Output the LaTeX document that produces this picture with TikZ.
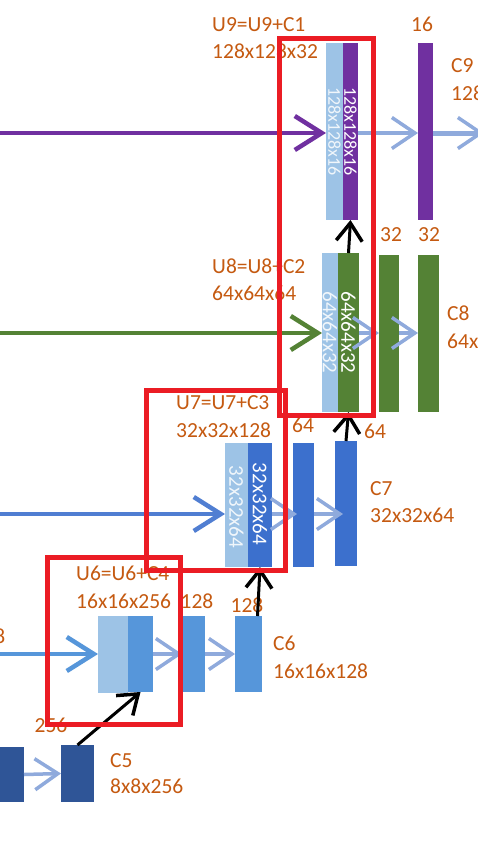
\documentclass[tikz,border=0pt]{standalone}
\usepackage{fontspec}
\setmainfont{Carlito}
\usetikzlibrary{arrows.meta,positioning}
\definecolor{lblorange}{RGB}{197,90,17}
\definecolor{skiplight}{RGB}{157,195,230}
\definecolor{nnpurple}{RGB}{112,48,160}
\definecolor{nngreen}{RGB}{84,130,53}
\definecolor{nnblue}{RGB}{60,112,205}
\definecolor{nnmid}{RGB}{86,150,218}
\definecolor{nndark}{RGB}{47,85,151}
\definecolor{convarrow}{RGB}{143,170,220}
\definecolor{boxred}{RGB}{235,28,36}
\tikzset{
	layer/.style = {
			rectangle,
			inner sep = 0pt,
			outer sep = 0pt,
			anchor    = north west,
		},
	lbl/.style = {text=lblorange, anchor=base west, inner sep=0pt, font=\fontsize{21.5}{26}\selectfont},
	num/.style = {lbl, anchor=base},
	dimtext/.style = {rotate=-90, inner sep=0pt, font=\fontsize{21}{24}\selectfont},
	concat/.style = {line width=4pt, -{Straight Barb[length=27pt,width=34pt,line width=4.5pt]}},
	conv/.style = {draw=convarrow, line width=3.5pt, -{Straight Barb[length=23pt,width=31pt,line width=3.5pt]}},
	upconv/.style = {draw=black, line width=3pt, -{Straight Barb[length=18pt,width=26pt,line width=3.5pt]}},
	redbox/.style = {draw=boxred, line width=5pt},
}
\begin{document}
\begin{tikzpicture}[x=1pt,y=-1pt]
	\useasboundingbox[fill=white] (0,0) rectangle (478,843);
	\clip (0,0) rectangle (478,843);

	% Labels of the decoder stages
	% U9 stage
	\node[lbl] (u9name) at (212,32) {U9=U9+C1};
	\node[lbl] (u9size) at (212,59) {128x128x32};
	\node[num] (c9ch) at (422,32) {16};
	\node[lbl] (c9name) at (451,73) {C9};
	\node[lbl] (c9size) at (451,100) {128x128x16};

	% U8 stage
	\node[lbl] (u8name) at (212,273) {U8=U8+C2};
	\node[lbl] (u8size) at (212,300) {64x64x64};
	\node[num] (c8ach) at (391,241) {32};
	\node[num] (c8bch) at (429,241) {32};
	\node[lbl] (c8name) at (447,320) {C8};
	\node[lbl] (c8size) at (447,348) {64x64x32};

	% U7 stage
	\node[lbl] (u7name) at (176,409) {U7=U7+C3};
	\node[lbl] (u7size) at (176,437) {32x32x128};
	\node[num] (c7ach) at (303,432) {64};
	\node[num] (c7bch) at (375,438) {64};
	\node[lbl] (c7name) at (370,495) {C7};
	\node[lbl] (c7size) at (370,522) {32x32x64};

	% U6 stage
	\node[lbl] (u6name) at (76,580) {U6=U6+C4};
	\node[lbl] (u6size) at (76,608) {16x16x256};
	\node[num] (c6ach) at (197,608) {128};
	\node[num] (c6bch) at (247,612) {128};
	\node[lbl] (c6name) at (273,650) {C6};
	\node[lbl] (c6size) at (273,678) {16x16x128};
	\node[lbl, anchor=base east] (c4size) at (5.5,643) {128};

	% C5 stage
	\node[num] (c5ch) at (51,732) {256};
	\node[lbl] (c5name) at (110,767) {C5};
	\node[lbl] (c5size) at (110,793) {8x8x256};

	% Feature map bars
	\node[layer, fill=skiplight, minimum width=17pt, minimum height=177pt] (u9a) at (326,43) {};
	\node[layer, fill=nnpurple, minimum width=15pt, minimum height=177pt] (u9b) at (343,43) {};
	\node[layer, fill=nnpurple, minimum width=15pt, minimum height=177pt] (c9a) at (418,43) {};

	\node[layer, fill=skiplight, minimum width=16pt, minimum height=159pt] (u8a) at (322,253) {};
	\node[layer, fill=nngreen, minimum width=21pt, minimum height=159pt] (u8b) at (338,253) {};
	\node[layer, fill=nngreen, minimum width=20pt, minimum height=157pt] (c8a) at (379,255) {};
	\node[layer, fill=nngreen, minimum width=21pt, minimum height=157pt] (c8b) at (418,255) {};

	\node[layer, fill=skiplight, minimum width=23pt, minimum height=124pt] (u7a) at (225,443) {};
	\node[layer, fill=nnblue, minimum width=24pt, minimum height=124pt] (u7b) at (248,443) {};
	\node[layer, fill=nnblue, minimum width=21pt, minimum height=124pt] (c7a) at (293,443) {};
	\node[layer, fill=nnblue, minimum width=22pt, minimum height=125pt] (c7b) at (335,441) {};

	\node[layer, fill=skiplight, minimum width=30pt, minimum height=77pt] (u6a) at (98,616) {};
	\node[layer, fill=nnmid, minimum width=25pt, minimum height=76pt] (u6b) at (128,616) {};
	\node[layer, fill=nnmid, minimum width=23pt, minimum height=76pt] (c6a) at (182,616) {};
	\node[layer, fill=nnmid, minimum width=27pt, minimum height=76pt] (c6b) at (235,616) {};

	\node[layer, fill=nndark, minimum width=24pt, minimum height=55pt] (c4b) at (0,747) {};
	\node[layer, fill=nndark, minimum width=33pt, minimum height=57pt] (c5b) at (61,745) {};

	% Sizes written inside the concatenated bars
	\node[dimtext, text=white!85!skiplight, font=\fontsize{18}{20}\selectfont] (u9at) at (u9a.center) {128x128x16};
	\node[dimtext, text=white, font=\fontsize{18}{20}\selectfont] (u9bt) at (u9b.center) {128x128x16};
	\node[dimtext, text=white!85!skiplight] (u8at) at (u8a.center) {64x64x32};
	\node[dimtext, text=white] (u8bt) at (u8b.center) {64x64x32};
	\node[dimtext, text=white!85!skiplight] (u7at) at ([yshift=-2pt]u7a.center) {32x32x64};
	\node[dimtext, text=white] (u7bt) at ([yshift=1pt]u7b.center) {32x32x64};

	% Skip connections
	\coordinate (in9) at (0,133);
	\coordinate (in8) at (0,333);
	\coordinate (in7) at (0,514);
	\coordinate (in6) at (0,654);
	\draw[concat, draw=nnpurple] (in9) -- (in9 -| u9a.west);
	\draw[concat, draw=nngreen] (in8) -- (in8 -| u8a.west);
	\draw[concat, draw=nnblue!90!white] (in7) -- (in7 -| u7a.west);
	\draw[concat, draw=nnmid] (in6) -- (in6 -| u6a.west);

	% Convolutions
	\draw[conv] (u9b.east |- in9) -- (c9a.west |- in9);
	\coordinate (out9) at (484,133);
	\draw[conv, line width=5pt] (c9a.east |- in9) -- (out9);
	\draw[conv] (u8b.east |- in8) -- (c8a.west |- in8);
	\draw[conv] (c8a.east |- in8) -- (c8b.west |- in8);
	\draw[conv] (u7b.east |- in7) -- ([xshift=4pt]c7a.west |- in7);
	\draw[conv] (c7a.east |- in7) -- ([xshift=8pt]c7b.west |- in7);
	\draw[conv] (u6b.east |- in6) -- (c6a.west |- in6);
	\draw[conv] (c6a.east |- in6) -- (c6b.west |- in6);
	\draw[conv] (c4b.east) -- (c5b.west);

	% Up-convolutions
	\draw[upconv] (u8b.north) -- (u9b.south);
	\draw[upconv] (c7b.north) -- (u8b.south);
	\draw[upconv] ([xshift=9pt]c6b.north) -- (u7b.south);
	\draw[upconv] (c5b.north) -- (u6b.south);

	% Highlight frames
	\draw[redbox] (279.5,39) rectangle (373.5,415);
	\draw[redbox] (146,390) rectangle (285.5,570.5);
	\draw[redbox] (47,557.5) rectangle (180.5,724);
\end{tikzpicture}
\end{document}
